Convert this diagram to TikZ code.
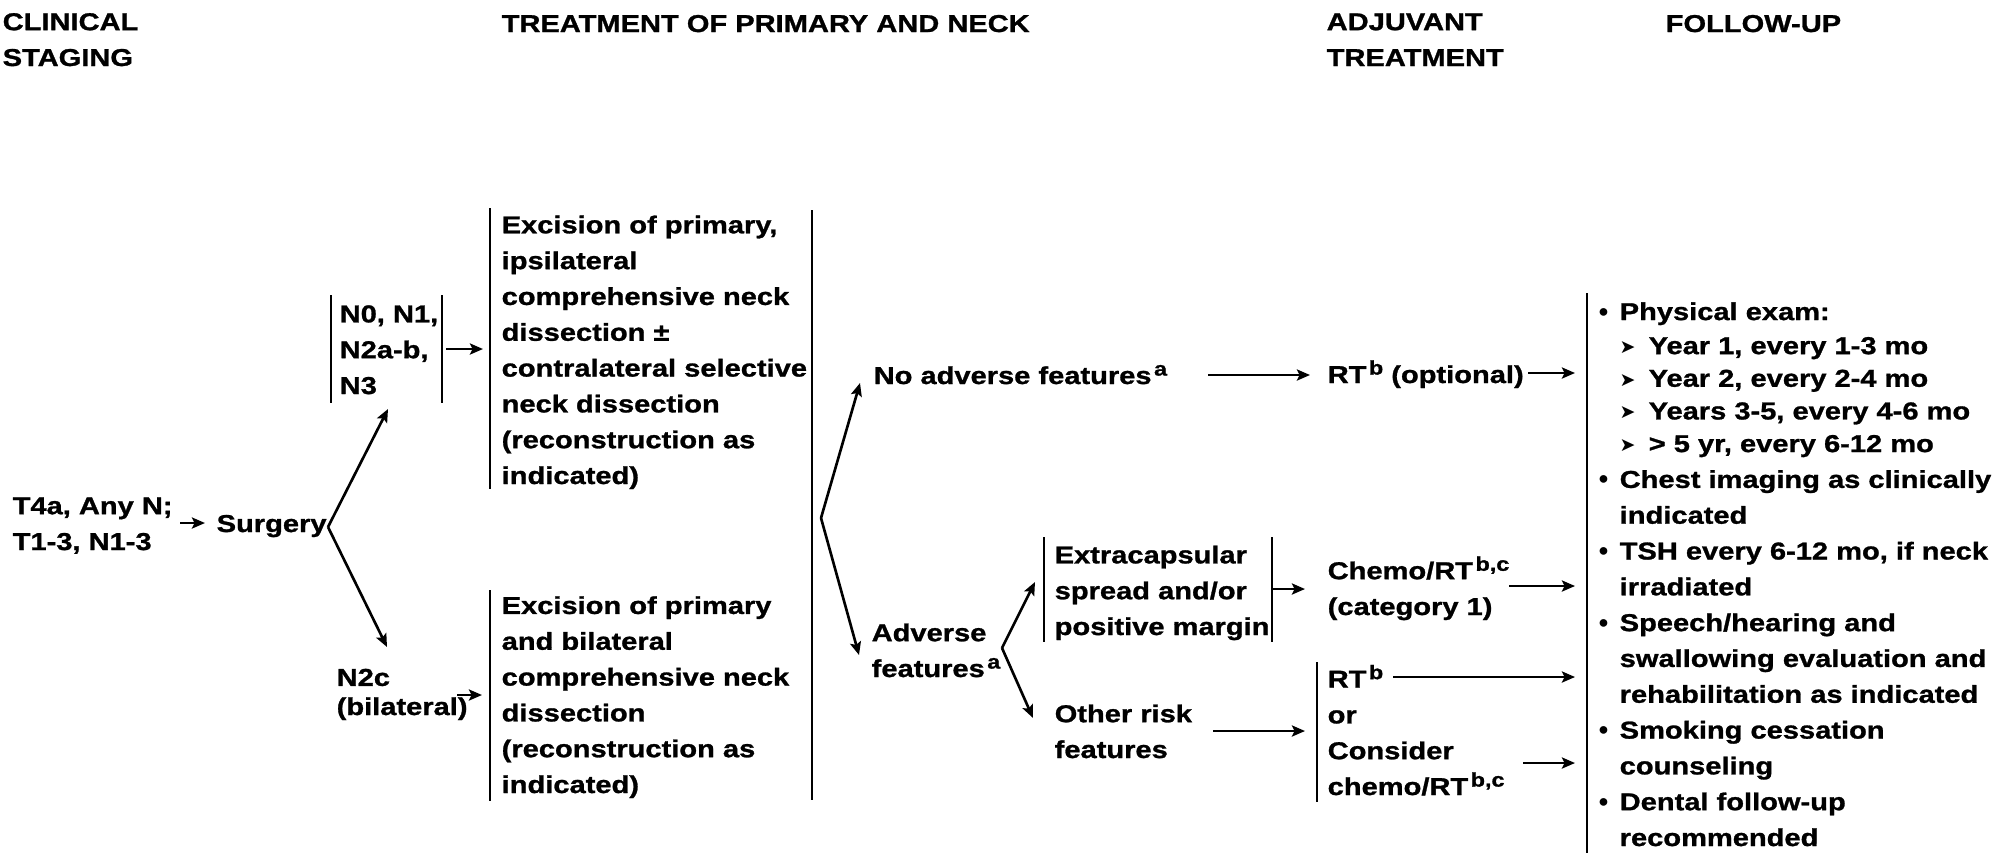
\documentclass[tikz,border=0pt]{standalone}
\usepackage{fontspec}
\setmainfont{Liberation Sans}[FakeStretch=1.19,BoldFeatures={FakeBold=1.1}]
\newfontfamily\arrfont{DejaVu Sans}
\usetikzlibrary{arrows.meta}
\usetikzlibrary{calc}
\newcommand{\supr}[1]{\kern0.7pt\raisebox{2.4pt}{\fontsize{5.6}{6}\selectfont#1}}
\newcommand{\bul}{\makebox[2.3mm][l]{\arrfont\fontsize{6.2}{8}\selectfont\char"2022}}
\newcommand{\fuind}{\hspace*{2.3mm}}
\newcommand{\subarr}{\fuind\makebox[2.9mm][l]{\raisebox{0.2pt}{\arrfont\fontsize{5.4}{6}\selectfont\char"27A4}}}

\begin{document}
\begin{tikzpicture}[x=0.1mm,y=-0.1mm,
	txt/.style={anchor=base west,inner sep=0pt,align=left,font=\fontsize{6.95}{10.19}\selectfont\bfseries},
	bar/.style={line width=0.8pt},
	arr/.style={line width=0.75pt,-{Stealth[length=1.3mm,width=1.1mm,inset=0.25mm]}}]
	\useasboundingbox (0,0) rectangle (1999,853);
	
	% column heads (placed at the baseline of their last line)
	\node[txt] (clin) at (2,66) {CLINICAL\\STAGING};
	\node[txt] (trt) at (501,32) {TREATMENT OF PRIMARY AND NECK};
	\node[txt] (adj) at (1326,66) {ADJUVANT\\TREATMENT};
	\node[txt] (fol) at (1665,32) {FOLLOW-UP};
	
	% staging and surgery
	\node[txt] (stage) at (12,550) {T4a, Any N;\\T1-3, N1-3};
	\node[txt] (surg) at (216,532) {Surgery};
	\node[txt] (nzero) at (339,394) {N0, N1,\\N2a-b,\\N3};
	\node[txt] (ntwoc) at (336,715) {N2c\\[-1.9pt](bilateral)};
	\draw[bar] (331,295) -- (331,403);
	\draw[bar] (442,295) -- (442,403);
	
	% primary and neck
	\node[txt] (exipsi) at (501,484) {Excision of primary,\\ipsilateral\\comprehensive neck\\dissection ±\\contralateral selective\\neck dissection\\(reconstruction as\\indicated)};
	\node[txt] (exbil) at (501,793) {Excision of primary\\and bilateral\\comprehensive neck\\dissection\\(reconstruction as\\indicated)};
	\draw[bar] (490,208) -- (490,489);
	\draw[bar] (490,590) -- (490,801);
	\draw[bar] (812,210) -- (812,800);
	
	% pathology
	\node[txt] (noadv) at (873,384) {No adverse features\supr{a}};
	\node[txt] (adv) at (871,677) {Adverse\\features\supr{a}};
	\node[txt] (ecs) at (1054,635) {Extracapsular\\spread and/or\\positive margin};
	\node[txt] (oth) at (1054,758) {Other risk\\features};
	\draw[bar] (1044,537) -- (1044,642);
	\draw[bar] (1272,537) -- (1272,642);
	
	% adjuvant
	\node[txt] (rtopt) at (1327,383) {RT\supr{b} (optional)};
	\node[txt] (chemo) at (1327,615) {Chemo/RT\supr{b,c}\\(category 1)};
	\node[txt] (rtor) at (1327,795) {RT\supr{b}\\or\\Consider\\chemo/RT\supr{b,c}};
	\draw[bar] (1317,662) -- (1317,802);
	
	% follow-up
	\node[txt] (fu) at (1596,846) {\bul Physical exam:\\[-0.5pt]
		\subarr Year 1, every 1-3 mo\\[-0.9pt]
		\subarr Year 2, every 2-4 mo\\[-0.9pt]
		\subarr Years 3-5, every 4-6 mo\\[-0.9pt]
		\subarr > 5 yr, every 6-12 mo\\
		\bul Chest imaging as clinically\\
		\fuind indicated\\
		\bul TSH every 6-12 mo, if neck\\
		\fuind irradiated\\
		\bul Speech/hearing and\\
		\fuind swallowing evaluation and\\
		\fuind rehabilitation as indicated\\
		\bul Smoking cessation\\
		\fuind counseling\\
		\bul Dental follow-up\\
		\fuind recommended};
	\draw[bar] (1587,293) -- (1587,853);
	
	% arrow ends
	\coordinate (stout) at (180,523);
	\coordinate (surgin) at (205,523);
	\coordinate (fork1) at (328,527);
	\coordinate (nzin) at (388,409);
	\coordinate (ntin) at (387,647);
	\coordinate (nzout) at (446,349);
	\coordinate (exin) at (483,349);
	\coordinate (ntout) at (457,695);
	\coordinate (bilin) at (482,695);
	\coordinate (fork2) at (821,518);
	\coordinate (noin) at (860,383);
	\coordinate (advin) at (859,655);
	\coordinate (noout) at (1208,375);
	\coordinate (optin) at (1310,375);
	\coordinate (fork3) at (1002,648);
	\coordinate (ecsin) at (1035,582);
	\coordinate (othin) at (1033,718);
	\coordinate (ecsout) at (1273,589);
	\coordinate (chin) at (1305,589);
	\coordinate (othout) at (1213,731);
	\coordinate (rtin) at (1305,731);
	\coordinate (optout) at (1528,373);
	\coordinate (chout) at (1509,586);
	\coordinate (rtout) at (1393,677);
	\coordinate (consout) at (1523,763);
	\coordinate (fuin) at (1575,0);
	
	\draw[arr] (stout) -- (surgin);
	\draw[arr] (fork1) -- (nzin);
	\draw[arr] (fork1) -- (ntin);
	\draw[arr] (nzout) -- (exin);
	\draw[arr] (ntout) -- (bilin);
	\draw[arr] (fork2) -- (noin);
	\draw[arr] (fork2) -- (advin);
	\draw[arr] (noout) -- (optin);
	\draw[arr] (fork3) -- (ecsin);
	\draw[arr] (fork3) -- (othin);
	\draw[arr] (ecsout) -- (chin);
	\draw[arr] (othout) -- (rtin);
	\draw[arr] (optout) -- (optout -| fuin);
	\draw[arr] (chout) -- (chout -| fuin);
	\draw[arr] (rtout) -- (rtout -| fuin);
	\draw[arr] (consout) -- (consout -| fuin);
\end{tikzpicture}
\end{document}
